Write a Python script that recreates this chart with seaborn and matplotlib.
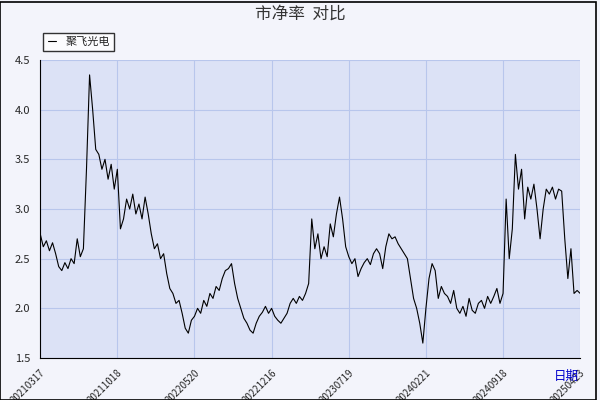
import matplotlib
matplotlib.use("Agg")
import matplotlib.pyplot as plt
import seaborn as sns
import numpy as np

# PB ratio readings traced left-to-right from the reference
pb_values = [
    2.75, 2.62, 2.68, 2.58, 2.66, 2.55, 2.42, 2.38, 2.46, 2.4, 2.5, 2.45, 2.7, 2.52, 2.6, 3.4,
    4.35, 4.0, 3.6, 3.55, 3.4, 3.5, 3.3, 3.45, 3.2, 3.4,
    2.8, 2.9, 3.1, 3.0, 3.15, 2.95, 3.05, 2.9, 3.12, 2.95, 2.75, 2.6, 2.65, 2.5, 2.55,
    2.35, 2.2, 2.15, 2.05, 2.08, 1.95, 1.8,
    1.75, 1.88, 1.92, 2.0, 1.95, 2.08, 2.02, 2.15, 2.1, 2.22, 2.18, 2.3, 2.38, 2.4,
    2.45, 2.25, 2.1, 2.0, 1.9, 1.85, 1.78, 1.75, 1.85, 1.92, 1.96, 2.02, 1.95, 2.0, 1.92,
    1.88, 1.85, 1.9, 1.95, 2.05, 2.1, 2.05, 2.12, 2.08, 2.15, 2.25,
    2.9, 2.6, 2.75, 2.5, 2.62, 2.52, 2.85, 2.72, 2.95,
    3.12, 2.9, 2.62, 2.52, 2.45, 2.5, 2.32, 2.4, 2.46, 2.5, 2.44, 2.55, 2.6, 2.55, 2.4,
    2.62, 2.75, 2.7, 2.72, 2.65, 2.6, 2.55, 2.5, 2.3, 2.1, 2.0, 1.85,
    1.65, 2.0, 2.3, 2.45, 2.38, 2.1, 2.22, 2.15, 2.12, 2.05, 2.18, 2.0, 1.95, 2.02, 1.92,
    2.1, 1.98, 1.95, 2.05, 2.08, 2.0, 2.12, 2.05, 2.12, 2.2, 2.05, 2.15, 3.1, 2.5, 2.8,
    3.55, 3.2, 3.4, 2.9, 3.22, 3.1, 3.25, 3.0, 2.7, 3.0, 3.2, 3.15, 3.22, 3.1, 3.2, 3.18,
    2.7, 2.3, 2.6, 2.15, 2.18, 2.15,
]
tick_labels = ["20210317", "20211018", "20220520", "20221216",
               "20230719", "20240221", "20240918", "20250423"]

sns.set_style("whitegrid")
plt.rcParams["font.family"] = ["Noto Sans CJK SC", "DejaVu Sans"]

fig = plt.figure(figsize=(6, 4), dpi=100, facecolor="#f3f4fb")
ax = fig.add_axes([0.067, 0.105, 0.9, 0.745])
ax.set_facecolor("#dce2f6")

x = np.arange(len(pb_values))
sns.lineplot(x=x, y=pb_values, color="black", linewidth=0.8, ax=ax,
             label="聚飞光电")

ax.set_xlim(0, len(pb_values) - 1)
ax.set_ylim(1.5, 4.5)
ax.set_yticks([1.5, 2.0, 2.5, 3.0, 3.5, 4.0, 4.5])
ax.set_xticks(np.linspace(0, len(pb_values) - 1, len(tick_labels)))
ax.set_xticklabels(tick_labels, rotation=45, ha="right", rotation_mode="anchor",
                   fontsize=7)
ax.tick_params(axis="y", labelsize=8)
ax.grid(color="#b8c6ec", linewidth=0.8)
for s in ["top", "right"]:
    ax.spines[s].set_visible(False)
for s in ["left", "bottom"]:
    ax.spines[s].set_color("black")

leg = ax.legend(loc="lower left", bbox_to_anchor=(-0.005, 1.01), fontsize=8,
                frameon=True, fancybox=False, handlelength=0.8,
                borderpad=0.4)
leg.get_frame().set_edgecolor("black")
leg.get_frame().set_facecolor("white")

fig.text(0.5, 0.965, "市净率  对比", ha="center", va="center", fontsize=12,
         color="#333333")
fig.text(0.965, 0.06, "日期", ha="right", va="center", fontsize=9, color="#0000cc")

fig.patches.append(plt.Rectangle((0.0, 0.0), 0.993, 0.995, transform=fig.transFigure,
                                 fill=False, edgecolor="black", linewidth=1.2))
fig.savefig("out.png", dpi=100, facecolor=fig.get_facecolor())
